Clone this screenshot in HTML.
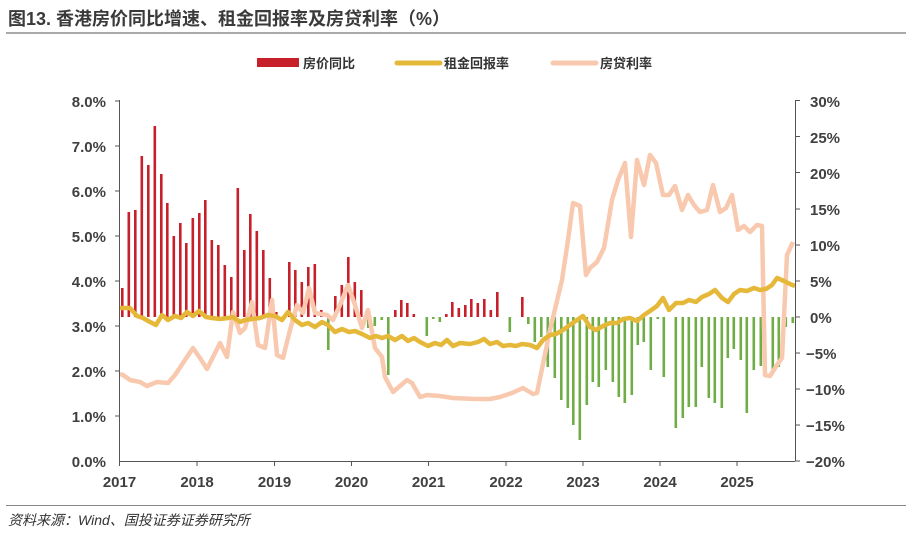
<!DOCTYPE html>
<html><head><meta charset="utf-8"><style>
body{margin:0;background:#fff;}
svg text{font-family:"Liberation Sans","Noto Sans CJK SC",sans-serif;}
</style></head><body>
<svg width="912" height="531" viewBox="0 0 912 531" xmlns="http://www.w3.org/2000/svg">
<text x="8" y="25" font-size="18" font-weight="bold" fill="#3a3a3a">图13. 香港房价同比增速、租金回报率及房贷利率（%）</text>
<line x1="6" y1="33" x2="906" y2="33" stroke="#555" stroke-width="1"/>
<rect x="257" y="58" width="42" height="9" fill="#C8202A"/>
<text x="303" y="68" font-size="13" font-weight="bold" fill="#333">房价同比</text>
<line x1="397" y1="63" x2="440" y2="63" stroke="#E6B83A" stroke-width="5" stroke-linecap="round"/>
<text x="444" y="68" font-size="13" font-weight="bold" fill="#333">租金回报率</text>
<line x1="553" y1="63" x2="596" y2="63" stroke="#F8C9AE" stroke-width="5" stroke-linecap="round"/>
<text x="600" y="68" font-size="13" font-weight="bold" fill="#333">房贷利率</text>

<g fill="#C8202A">
<rect x="121" y="288" width="2.6" height="29"/><rect x="127.5" y="212" width="2.6" height="105"/><rect x="134" y="210" width="2.6" height="107"/><rect x="140.5" y="156" width="2.6" height="161"/><rect x="147" y="165" width="2.6" height="152"/><rect x="153.5" y="126" width="2.6" height="191"/><rect x="160" y="174" width="2.6" height="143"/><rect x="166" y="203" width="2.6" height="114"/><rect x="172.5" y="236" width="2.6" height="81"/><rect x="179" y="223" width="2.6" height="94"/><rect x="185" y="243" width="2.6" height="74"/><rect x="191.5" y="218" width="2.6" height="99"/><rect x="198" y="213" width="2.6" height="104"/><rect x="204" y="200" width="2.6" height="117"/><rect x="210.5" y="240" width="2.6" height="77"/><rect x="217" y="245" width="2.6" height="72"/><rect x="223.5" y="265" width="2.6" height="52"/><rect x="230" y="277" width="2.6" height="40"/><rect x="236.5" y="188" width="2.6" height="129"/><rect x="243" y="250" width="2.6" height="67"/><rect x="249" y="214" width="2.6" height="103"/><rect x="255.5" y="231" width="2.6" height="86"/><rect x="262" y="250" width="2.6" height="67"/><rect x="268.5" y="278" width="2.6" height="39"/><rect x="275" y="312" width="2.6" height="5"/><rect x="288" y="262" width="2.6" height="55"/><rect x="294" y="270" width="2.6" height="47"/><rect x="300.5" y="282" width="2.6" height="35"/><rect x="307" y="267" width="2.6" height="50"/><rect x="313.5" y="264" width="2.6" height="53"/><rect x="320" y="310" width="2.6" height="7"/><rect x="334" y="296" width="2.6" height="21"/><rect x="340.5" y="285" width="2.6" height="32"/><rect x="347" y="257" width="2.6" height="60"/><rect x="353.5" y="282" width="2.6" height="35"/><rect x="360" y="290" width="2.6" height="27"/><rect x="394" y="310" width="2.6" height="7"/><rect x="400" y="300" width="2.6" height="17"/><rect x="406" y="303" width="2.6" height="14"/><rect x="412.5" y="314" width="2.6" height="3"/><rect x="445" y="314" width="2.6" height="3"/><rect x="451" y="302" width="2.6" height="15"/><rect x="457.5" y="308" width="2.6" height="9"/><rect x="464" y="305" width="2.6" height="12"/><rect x="470" y="299" width="2.6" height="18"/><rect x="476.5" y="303" width="2.6" height="14"/><rect x="483" y="299" width="2.6" height="18"/><rect x="489.5" y="310" width="2.6" height="7"/><rect x="496" y="292" width="2.6" height="25"/><rect x="521" y="297" width="2.6" height="20"/>
</g>
<g fill="#70AD47">
<rect x="327" y="317" width="2.6" height="33"/><rect x="367" y="317" width="2.6" height="11"/><rect x="373.5" y="317" width="2.6" height="9"/><rect x="380.5" y="317" width="2.6" height="3"/><rect x="387" y="317" width="2.6" height="58"/><rect x="425.5" y="317" width="2.6" height="19"/><rect x="432" y="317" width="2.6" height="2"/><rect x="438.5" y="317" width="2.6" height="5"/><rect x="508.5" y="317" width="2.6" height="15"/>
<rect x="527" y="317" width="2.6" height="7"/><rect x="533.5" y="317" width="2.6" height="25"/><rect x="540" y="317" width="2.6" height="20"/><rect x="546.5" y="317" width="2.6" height="50"/><rect x="553.5" y="317" width="2.6" height="61"/><rect x="560" y="317" width="2.6" height="83"/><rect x="566.5" y="317" width="2.6" height="91"/><rect x="572" y="317" width="2.6" height="108"/><rect x="578.5" y="317" width="2.6" height="123"/><rect x="585.5" y="317" width="2.6" height="88"/><rect x="591.5" y="317" width="2.6" height="65"/><rect x="597.5" y="317" width="2.6" height="70"/><rect x="604.5" y="317" width="2.6" height="53"/><rect x="611.5" y="317" width="2.6" height="65"/><rect x="617.5" y="317" width="2.6" height="80"/><rect x="623.5" y="317" width="2.6" height="86"/><rect x="630.5" y="317" width="2.6" height="78"/><rect x="636.5" y="317" width="2.6" height="28"/><rect x="642.5" y="317" width="2.6" height="25"/><rect x="649.5" y="317" width="2.6" height="53"/><rect x="656.5" y="317" width="2.6" height="2"/><rect x="662.5" y="317" width="2.6" height="60"/><rect x="674.5" y="317" width="2.6" height="111"/><rect x="681.5" y="317" width="2.6" height="101"/><rect x="687.5" y="317" width="2.6" height="90"/><rect x="694.5" y="317" width="2.6" height="90"/><rect x="700.5" y="317" width="2.6" height="50"/><rect x="707.5" y="317" width="2.6" height="81"/><rect x="713.5" y="317" width="2.6" height="86"/><rect x="720.5" y="317" width="2.6" height="91"/><rect x="726.5" y="317" width="2.6" height="41"/><rect x="732.5" y="317" width="2.6" height="32"/><rect x="739.5" y="317" width="2.6" height="43"/><rect x="745.5" y="317" width="2.6" height="96"/><rect x="752.5" y="317" width="2.6" height="53"/><rect x="759.5" y="317" width="2.6" height="49"/><rect x="771.5" y="317" width="2.6" height="56"/><rect x="777.5" y="317" width="2.6" height="50"/><rect x="784.5" y="317" width="2.6" height="10"/><rect x="791.5" y="317" width="2.6" height="6"/>
</g>

<polyline fill="none" stroke="#F8C9AE" stroke-width="4.5" stroke-linejoin="round" points="120,374 123,375 130,380 140,382 147,386 157,382 168,383 175,375 185,360 193,348 200,358 207,369 214,355 220,343 227,357 233,312 240,333 245,328 252,302 258,345 265,348 272,300 277,355 283,358 290,330 297,305 303,313 309,288 315,313 327,315 333,320 340,305 348,285 355,305 362,328 368,310 375,348 382,357 385,377 393,392 400,386 407,380 412,383 420,397 427,395 440,396 453,398 475,399 490,399 500,397 512,393 523,388 533,394 537,393 550,330 562,280 568,240 573,203 580,206 586,275 590,268 597,262 604,248 612,200 618,180 625,163 631,237 637,160 644,185 650,155 656,163 663,195 669,195 675,186 682,210 688,195 694,205 700,212 707,210 713,185 720,212 726,208 732,195 738,230 744,226 750,232 757,225 762,226 765,375 770,376 777,365 782,358 787,255 793,242"/>

<polyline fill="none" stroke="#E6B83A" stroke-width="4.5" stroke-linejoin="round" points="120,308 130,308 137,316 143,318 150,322 156,325 162,315 168,320 175,316 181,318 187,312 193,316 199,311 206,317 212,318 220,319 228,318 233,317 240,322 245,320 252,319 260,318 268,315 275,316 282,320 288,312 295,320 302,325 308,323 315,327 322,322 328,325 335,332 342,329 349,332 355,331 362,334 370,338 376,336 382,338 388,336 395,340 402,336 408,341 414,338 420,342 428,346 435,343 441,345 447,340 453,346 460,343 470,344 478,342 484,339 490,344 497,342 503,346 510,345 516,346 522,344 530,345 537,348 543,340 550,335 556,334 563,330 570,325 577,320 583,316 590,327 596,330 603,326 610,323 617,323 623,319 630,318 637,321 644,315 650,311 657,306 663,298 669,310 676,303 683,303 689,300 696,302 702,297 709,294 715,290 722,298 728,302 734,294 740,290 747,291 754,288 760,290 766,289 772,285 777,278 784,281 790,284 795,286"/>

<g stroke="#555" stroke-width="1" fill="none">
<line x1="119.5" y1="100" x2="119.5" y2="461.5"/>
<line x1="119" y1="461.5" x2="795" y2="461.5"/>
<line x1="795.5" y1="100" x2="795.5" y2="461.5"/>
<path d="M115 101H120M115 146H120M115 191H120M115 236H120M115 281H120M115 326H120M115 371H120M115 416H120"/>
<path d="M795 100.5H800M795 136.5H800M795 172.5H800M795 209H800M795 245H800M795 281H800M795 317H800M795 353H800M795 389H800M795 425H800M795 461H800"/>
<path d="M119.5 461V466M197 461V466M274.5 461V466M351.5 461V466M428.5 461V466M506 461V466M583 461V466M660 461V466M737 461V466"/>
</g>
<g font-size="15" font-weight="bold" fill="#404040" text-anchor="end">
<text x="106" y="107">8.0%</text><text x="106" y="152">7.0%</text><text x="106" y="197">6.0%</text><text x="106" y="242">5.0%</text><text x="106" y="287">4.0%</text><text x="106" y="332">3.0%</text><text x="106" y="377">2.0%</text><text x="106" y="422">1.0%</text><text x="106" y="467">0.0%</text>
</g>
<g font-size="15" font-weight="bold" fill="#404040" text-anchor="start">
<text x="810" y="107">30%</text><text x="810" y="143">25%</text><text x="810" y="179">20%</text><text x="810" y="215">15%</text><text x="810" y="251">10%</text><text x="810" y="287">5%</text><text x="810" y="323">0%</text><text x="806" y="359">−5%</text><text x="806" y="395">−10%</text><text x="806" y="431">−15%</text><text x="806" y="467">−20%</text>
</g>
<g font-size="15" font-weight="bold" fill="#404040" text-anchor="middle">
<text x="119.5" y="487">2017</text><text x="197" y="487">2018</text><text x="274.5" y="487">2019</text><text x="351.5" y="487">2020</text><text x="428.5" y="487">2021</text><text x="506" y="487">2022</text><text x="583" y="487">2023</text><text x="660" y="487">2024</text><text x="737" y="487">2025</text>
</g>
<line x1="6" y1="505.5" x2="906" y2="505.5" stroke="#888" stroke-width="1"/>
<text x="8" y="525" font-size="14" font-style="italic" fill="#333">资料来源：Wind、国投证券证券研究所</text>
</svg>
</body></html>
